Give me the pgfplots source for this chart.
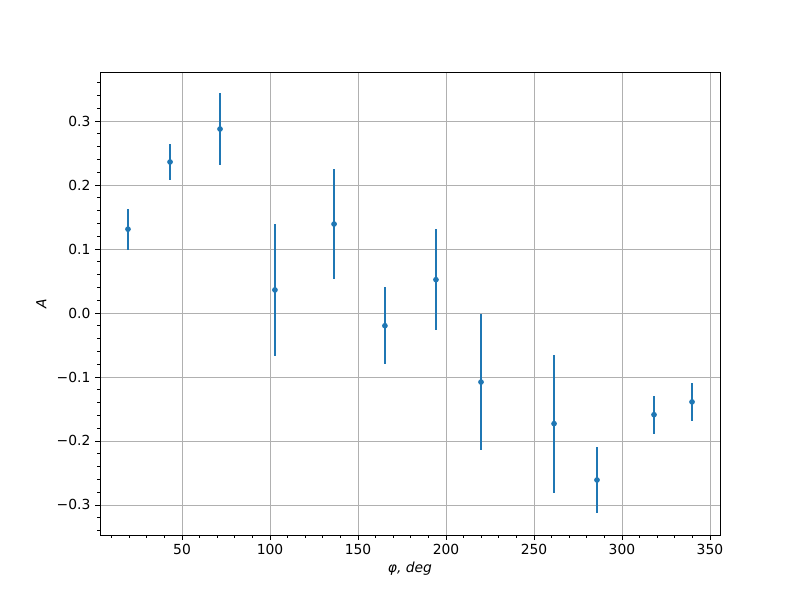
\documentclass[border=0pt]{standalone}
\usepackage{fontspec}
\setmainfont{DejaVu Sans}
\usepackage{pgfplots}
\pgfplotsset{compat=1.18}
\definecolor{mplblue}{HTML}{1F77B4}
\definecolor{gridgray}{HTML}{B0B0B0}

\begin{document}
\begin{tikzpicture}
\begin{axis}[
    scale only axis,
    width=465pt, height=347.25pt,
    xmin=3.4, xmax=355.7,
    ymin=-0.347, ymax=0.3766,
    xtick={50,100,...,350},
    minor xtick={10,20,...,350},
    ytick={-0.3,-0.2,-0.1,0,0.1,0.2,0.3},
    yticklabels={−0.3,−0.2,−0.1,0.0,0.1,0.2,0.3},
    minor ytick={-0.34,-0.32,...,0.37},
    /pgf/number format/assume math mode=true,
    tick align=outside,
    tick pos=left,
    major tick length=3.65pt,
    minor tick length=2.1pt,
    every tick/.style={black, line width=0.6pt},
    grid=major,
    major grid style={gridgray, line width=0.6pt},
    axis line style={line width=0.6pt},
    ticklabel style={font=\fontsize{10.4}{12}\selectfont},
    label style={font=\fontsize{10.4}{12}\selectfont},
    xlabel={\itshape φ, deg},
    ylabel={\itshape A},
    xlabel style={yshift=2pt},
    ylabel style={yshift=1pt},
]
\addplot+[mplblue, only marks, mark=*, mark size=1.9pt,
    mark options={mplblue, fill=mplblue},
    error bars/.cd, y dir=both, y explicit,
    error mark=none,
    error bar style={mplblue, line width=1.6pt}]
    table[x=x, y=y, y error=e] {
x     y       e
19.3  0.131   0.032
43.2  0.236   0.028
71.6  0.2875  0.056
102.8 0.036   0.103
136.4 0.139   0.086
165.3 -0.020  0.060
194.3 0.052   0.079
219.9 -0.108  0.106
261.4 -0.173  0.108
285.8 -0.261  0.052
318.2 -0.159  0.030
339.8 -0.139  0.030
};
\end{axis}
\path[use as bounding box] (-75pt,-48.75pt) rectangle (525pt,401.25pt);
\end{tikzpicture}
\end{document}
